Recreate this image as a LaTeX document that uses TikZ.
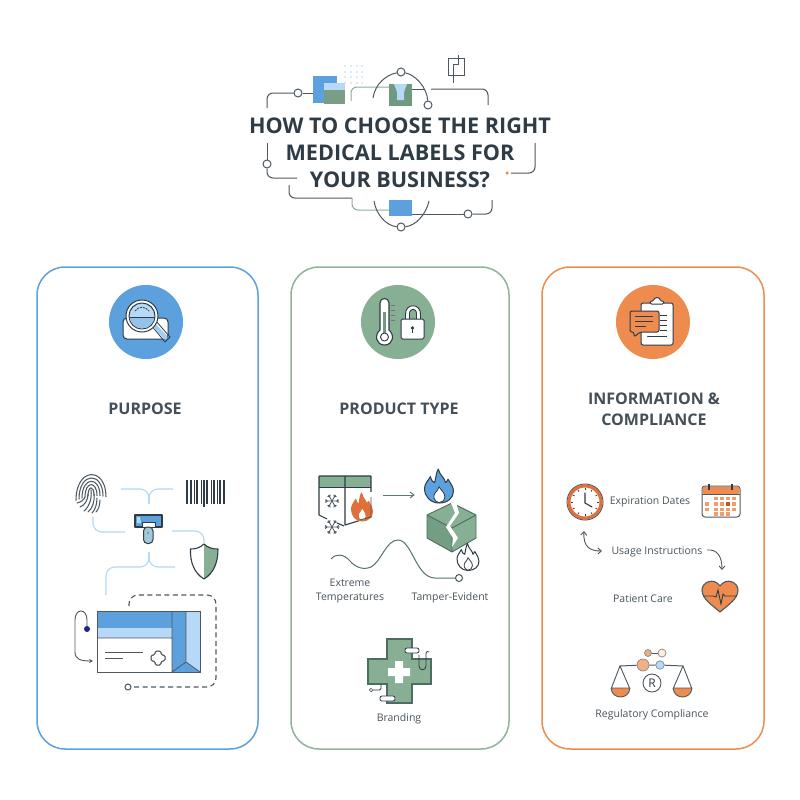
\documentclass[tikz,border=0pt]{standalone}
\usepackage{fontspec}
\setmainfont{Open Sans}
\usetikzlibrary{arrows.meta,calc}
\definecolor{ink}{HTML}{2F3B45}
\definecolor{txt}{HTML}{4A545C}
\definecolor{cblue}{HTML}{5DA0DE}
\definecolor{lblue}{HTML}{B5D9F7}
\definecolor{wire}{HTML}{B0D8F8}
\definecolor{cgreen}{HTML}{86AF93}
\definecolor{dgreen}{HTML}{6F9A80}
\definecolor{corange}{HTML}{EE8C50}
\definecolor{dorange}{HTML}{E0703A}
\definecolor{cardg}{HTML}{8FB39B}
\tikzset{
 card/.style={draw,line width=1.5pt,rounded corners=28pt,fill=white,inner sep=0pt},
 badge/.style={circle,minimum size=74pt,inner sep=0pt},
 head/.style={font=\fontsize{16}{21}\selectfont\bfseries,text=ink!90,anchor=base,inner sep=0pt},
 lab/.style={font=\fontsize{10.5}{13}\selectfont,text=txt,align=center,inner sep=0pt},
 ttl/.style={font=\fontsize{21.6}{27}\selectfont\bfseries,text=ink,anchor=base,inner sep=0pt},
 line/.style={draw=ink!85,line width=1pt},
 gline/.style={draw=dgreen!80,line width=1pt},
 bwire/.style={draw=wire,line width=1.1pt,rounded corners=9pt},
 ring/.style={circle,draw=ink!85,line width=1pt,fill=white,minimum size=8pt,inner sep=0pt},
 icon/.style={draw=ink,line width=1pt,line join=round},
}
\newcommand{\myflame}[6]{% x y sx sy fill stroke
 \begin{scope}[shift={(#1,#2)},xscale=#3,yscale=#4]
 \path[fill=#5,draw=#6,line width=1pt,line join=round]
  (0,1) .. controls (-0.6,1) and (-1,0.6) .. (-1,0.15)
  .. controls (-1,-0.15) and (-0.75,-0.3) .. (-0.6,-0.55)
  .. controls (-0.5,-0.3) and (-0.4,-0.2) .. (-0.3,-0.2)
  .. controls (-0.2,-0.5) and (-0.2,-0.8) .. (-0.05,-1)
  .. controls (0.05,-0.6) and (0.4,-0.5) .. (0.45,-0.2)
  .. controls (0.55,-0.25) and (0.6,-0.35) .. (0.62,-0.4)
  .. controls (0.85,-0.1) and (1,0.1) .. (1,0.3)
  .. controls (1,0.7) and (0.6,1) .. (0,1) -- cycle;
 \path[fill=white,draw=#6,line width=.8pt]
  (0,0.98) .. controls (-0.38,0.9) and (-0.42,0.6) .. (-0.28,0.42)
  .. controls (-0.15,0.3) and (-0.05,0.2) .. (0,0.05)
  .. controls (0.15,0.25) and (0.42,0.42) .. (0.4,0.65)
  .. controls (0.38,0.85) and (0.2,0.98) .. (0,0.98) -- cycle;
 \end{scope}}
\newcommand{\mysnow}[3]{% x y r
 \foreach \a in {0,60,...,300}{
  \draw[ink!85,line width=.8pt] (#1,#2) -- ++(\a:#3)
   ($(#1,#2)+(\a:0.65*#3)$) -- ++(\a+40:0.35*#3)
   ($(#1,#2)+(\a:0.65*#3)$) -- ++(\a-40:0.35*#3);}}
\begin{document}
\begin{tikzpicture}[x=1pt,y=-1pt]
\useasboundingbox (0,0) rectangle (800,800);
\fill[white] (0,0) rectangle (800,800);

% ---------- header circuit
\fill[cblue] (313,76) rectangle (337,103);
\fill[cgreen!90!black] (324,83) rectangle (345,104);
\fill[lblue] (324,83) rectangle (345,90);
\foreach \x in {345,351,357,362} \foreach \y in {66,72,77,83}
  \fill[lblue] (\x,\y) circle (.8);
\fill[dgreen] (389,84) rectangle (412,106);
\fill[lblue] (394,84) -- (407,84) -- (404,92) -- (404,100) -- (397,100) -- (397,92) -- cycle;
\fill[cblue] (389,200) rectangle (412,216);

\coordinate (a1) at (267,108); \coordinate (a2) at (313,93);
\node[ring] (r1) at (298,93) {};
\draw[line,rounded corners=6pt] (a1) -- (267,93) -- (r1);
\draw[line] (r1) -- (a2);
\coordinate (g1) at (351,101); \coordinate (g2) at (389,87);
\draw[gline,rounded corners=6pt] (g1) -- (351,87) -- (g2);
\node[ring] (r2) at (401,72) {};
\node[ring] (r3) at (428,105) {};
\coordinate (arcL) at (373,98);
\draw[line] (arcL) .. controls (375,84) and (386,75) .. (r2);
\draw[line] (r2) .. controls (416,75) and (427,88) .. (r3);
\coordinate (f1) at (412,89); \coordinate (f2) at (425,89);
\draw[line] (f1) -- (f2);
\coordinate (b1) at (431,89); \coordinate (b2) at (488,105);
\draw[line,rounded corners=6pt] (b1) -- (488,89) -- (b2);
% small icon
\draw[line] (448,59) rectangle (464,75);
\coordinate (s1) at (458,55); \coordinate (s2) at (453,83);
\draw[line] (s1) -- (458,65) -- (453,65) -- (s2);
% left lower
\node[ring] (r4) at (267,164) {};
\coordinate (c1) at (267,143); \coordinate (c2) at (297,178);
\draw[line] (c1) -- (r4);
\draw[line,rounded corners=6pt] (r4) -- (267,178) -- (c2);
\coordinate (d1) at (289,185); \coordinate (d2) at (352,198); \coordinate (d3) at (389,210);
\draw[line,rounded corners=6pt] (d1) -- (289,198) -- (d2);
\draw[gline,rounded corners=6pt] (d2) -- (352,210) -- (d3);
\node[ring] (r5) at (401,227) {};
\coordinate (e1) at (374,201); \coordinate (e2) at (429,201);
\draw[line] (e1) .. controls (376,215) and (387,226) .. (r5);
\draw[line] (r5) .. controls (415,226) and (426,215) .. (e2);
\node[ring] (r6) at (468,214) {};
\coordinate (h1) at (412,214); \coordinate (h2) at (492,200);
\draw[line] (h1) -- (r6);
\draw[line,rounded corners=6pt] (r6) -- (492,214) -- (h2);
\coordinate (k1) at (535,143); \coordinate (k2) at (511,173);
\node[circle,fill=corange,minimum size=3.5pt,inner sep=0pt] (k3) at (507,173) {};
\draw[line,rounded corners=6pt] (k1) -- (535,173) -- (k2);

\node[ttl] (t1) at (400,133.5) {HOW TO CHOOSE THE RIGHT};
\node[ttl] (t2) at (400,160.5) {MEDICAL LABELS FOR};
\node[ttl] (t3) at (400,187.5) {YOUR BUSINESS?};

% ---------- cards
\node[card,draw=cblue,minimum width=221pt,minimum height=482pt] (cardA) at (147.5,508) {};
\node[card,draw=cardg,minimum width=218pt,minimum height=482pt] (cardB) at (400,508) {};
\node[card,draw=corange,minimum width=222pt,minimum height=482pt] (cardC) at (653,508) {};
\node[badge,fill=cblue] (bA) at (146,322) {};
\node[badge,fill=cgreen] (bB) at (398,322) {};
\node[badge,fill=corange] (bC) at (653,322) {};
\node[head] (hA) at (145,414) {PURPOSE};
\node[head] (hB) at (399,414) {PRODUCT TYPE};
\node[head] (hC) at (654,404) {INFORMATION \&};
\node[head] (hD) at (654,425.5) {COMPLIANCE};

% --- badge A: magnifier
\draw[icon,fill=white,rounded corners=4pt] (123,318) rectangle (168,339);
\draw[ink,line width=.8pt] (151,325) -- (156,321) -- (170,337) -- (165,342) -- cycle;
\fill[lblue!80!cblue,rounded corners=1pt] (153,327) -- (156,324) -- (168,337) -- (165,340) -- cycle;
\draw[icon,fill=white] (142,316) circle (16);
\draw[icon,fill=lblue] (142,316) circle (13);
\begin{scope}\clip (142,316) circle (12.5);
\fill[cblue!65!white] (128,317) rectangle (156,330);
\draw[ink,line width=.6pt] (128,317) -- (156,317);
\end{scope}
\draw[ink,line width=.8pt,dash pattern=on 2pt off 1pt] (135,311) .. controls (139,306) and (145,306) .. (149,311);

% --- badge B: thermometer + lock
\draw[icon,fill=white,line width=1.1pt] (380,330) -- (380,303) .. controls (380,297) and (389,297) .. (389,303) -- (389,330)
  .. controls (395,335) and (393,345) .. (384.5,345) .. controls (376,345) and (374,335) .. (380,330) -- cycle;
\fill[dgreen] (383,312) rectangle (386,333);
\draw[ink,line width=.9pt] (384.5,337) circle (4);
\foreach \y in {305,310,315,320} \draw[ink!70,line width=.8pt] (391,\y) -- (395,\y);
\draw[white,line width=3.4pt] (407.5,320) -- (407.5,314) .. controls (407.5,305) and (418.5,305) .. (418.5,314) -- (418.5,320);
\draw[ink,line width=.9pt] (405.5,320) -- (405.5,314) .. controls (405.5,303) and (420.5,303) .. (420.5,314) -- (420.5,320);
\draw[ink,line width=.9pt] (409.5,320) -- (409.5,314) .. controls (409.5,307.5) and (416.5,307.5) .. (416.5,314) -- (416.5,320);
\draw[icon,fill=white,rounded corners=1.5pt] (401,319) rectangle (424,339);
\fill[ink] (412.5,328) circle (1.8);
\draw[ink,line width=1pt] (412.5,328) -- (412.5,333);

% --- badge C: clipboard + bubble
\draw[icon,fill=white,rounded corners=2pt] (641,303) rectangle (673,345);
\draw[icon,fill=white,rounded corners=1.5pt] (650,304) -- (650,301) -- (654,301) .. controls (654,297) and (660,297) .. (660,301) -- (664,301) -- (664,304) -- cycle;
\foreach \y in {315,320,325,330} \draw[ink,line width=.9pt] (660,\y) -- (667,\y);
\draw[ink,line width=.9pt] (648,336.5) -- (667,336.5);
\fill[ink] (648,336.5) circle (.9);
\draw[icon,fill=corange,rounded corners=2pt] (630,311) -- (659,311) -- (659,332) -- (640,332) -- (634,337) -- (634,332) -- (630,332) -- cycle;
\draw[ink,line width=.9pt] (635,316) -- (653,316) (635,321) -- (653,321) (635,326) -- (646,326);

% ---------- panel A
\begin{scope}[ink!85,line width=1.05pt,line cap=round]
\foreach \r in {3,6,9,12,15}
  \draw ({91-\r},{495+\r*.35}) .. controls ({91-\r},{490-1.55*\r}) and ({91+\r},{490-1.55*\r}) .. ({91+\r},{495+\r*.1});
\draw (91,490) .. controls (92,498) and (90,506) .. (84,511);
\draw (94,494) .. controls (95,502) and (92,509) .. (88,512);
\draw (97,498) .. controls (97,505) and (95,510) .. (92,513);
\draw (100,500) .. controls (100,506) and (98,510) .. (96,512);
\draw (88,494) .. controls (88,500) and (85,505) .. (80,507);
\draw (85,497) .. controls (84,500) and (81,502) .. (77,503);
\end{scope}
\foreach \x/\w in {187/2.4,191/1.2,194/1,197/2.4,201/1,204/1.4,207/2.4,211/1,214/2,217/1,220/1.4,224/2.4}
  \draw[ink,line width=\w pt] (\x,480) -- (\x,504);
\draw[ink,line width=2pt] (204,480) -- (204,507);

\coordinate (w1) at (121,489); \coordinate (w2) at (173,489); \coordinate (w3) at (149,504);
\draw[bwire] (w1) -- (149,489) -- (w3);
\draw[bwire] (w2) -- (149,489) -- (w3);
\coordinate (w4) at (93,517); \coordinate (w5) at (125,532);
\draw[bwire] (w4) -- (93,532) -- (w5);
\coordinate (w6) at (172,531); \coordinate (w7) at (204,543);
\draw[bwire] (w6) -- (204,531) -- (w7);
\coordinate (w8) at (149,552); \coordinate (w9) at (106,595); \coordinate (w10) at (175,567);
\draw[bwire] (w8) -- (149,567) -- (106,567) -- (w9);
\draw[bwire] (w8) -- (149,567) -- (w10);

% scanner
\fill[cblue] (135,515) rectangle (162,527);
\draw[icon,line width=1.1pt] (135,527) -- (135,515) -- (162,515) -- (162,527) -- cycle;
\fill[lblue] (137,517) -- (140,517) -- (141,523) -- (137,523) -- cycle;
\fill[white,draw=ink,line width=.7pt] (142.5,522) rectangle (155,527);
\draw[icon,fill=dgreen!25!lblue,rounded corners=4pt] (143.5,527) -- (153,527) -- (153,543.5) -- (143.5,543.5) -- cycle;
\fill[dgreen] (148,533) circle (1.1);
% shield
\fill[white] (204,544) .. controls (200,548) and (195,549) .. (190.5,549) .. controls (190,562) and (194,573) .. (204,579) -- cycle;
\fill[cgreen] (204,544) .. controls (208,548) and (213,549) .. (218,549) .. controls (218,562) and (214,573) .. (204,579) -- cycle;
\draw[icon,line width=1.1pt] (204,544) .. controls (200,548) and (195,549) .. (190.5,549) .. controls (190,562) and (194,573) .. (204,579)
  .. controls (214,573) and (218,562) .. (218,549) .. controls (213,549) and (208,548) .. (204,544) -- cycle;
% label
\fill[white] (97,611) rectangle (200,672);
\fill[cblue] (97,611) rectangle (172,628);
\fill[lblue] (97,628) rectangle (172,638);
\fill[cblue] (172,611) rectangle (186,672);
\fill[lblue] (186,611) rectangle (200,672);
\fill[cblue] (172,672) -- (186,662) -- (200,672) -- cycle;
\draw[ink!85,line width=.8pt] (97,638) -- (172,638) (172,611) -- (172,672) (186,611) -- (186,662) (172,672) -- (186,662) -- (200,672);
\draw[ink!85,line width=.95pt] (97,611) rectangle (200,672);
\draw[ink!85,line width=.9pt] (105,652) -- (143,652) (105,658) -- (123,658);
\draw[ink,line width=1pt,fill=white,rounded corners=1.5pt] (155,651) -- (161,651) -- (161,655) -- (165,655) -- (165,661) -- (161,661) -- (161,665) -- (155,665) -- (155,661) -- (151,661) -- (151,655) -- (155,655) -- cycle;
% loop
\node[circle,fill=blue!40!ink,minimum size=6pt,inner sep=0pt] (dotL) at (87,629) {};
\coordinate (loopEnd) at (93,661);
\draw[ink!85,line width=.9pt,-{Stealth[length=4pt,width=4pt]}] (dotL) -- (87,620) .. controls (87,608) and (75,608) .. (75,620) -- (75,652) .. controls (75,659) and (80,661) .. (loopEnd);
% dashed
\node[ring,minimum size=6pt] (rd) at (128,687) {};
\coordinate (ds) at (129,606);
\draw[ink!85,line width=1.1pt,dash pattern=on 5pt off 3.5pt,rounded corners=9pt] (ds) -- (129,595) -- (216,595) -- (216,687) -- (rd);

% ---------- panel B
\fill[cgreen] (319,476) rectangle (371,487);
\draw[icon,line width=1.1pt] (319,476) -- (371,476) (371,476) -- (371,517) -- (345,525) -- (345,476);
\draw[icon,line width=1.1pt] (319,476) -- (319,515) -- (327,519);
\draw[icon,line width=1.1pt] (337,523) -- (344,526);
\draw[ink,line width=.8pt] (319,487) -- (371,487);
\mysnow{332}{501}{7}
\mysnow{332}{527}{7.5}
\fill[white] (351,492) rectangle (373,516);
\myflame{362}{507}{10.5}{14}{dorange}{dorange}
\draw[ink!85,line width=.9pt] (371,497) -- (371,517) -- (360,520);
\node[inner sep=0pt,minimum size=0pt] (arrA) at (383,495) {};
\node[inner sep=0pt,minimum size=0pt] (arrB) at (415,495) {};
\draw[dgreen!70!ink,line width=1pt,-{Straight Barb[length=4pt,width=6pt]}] (arrA) -- (arrB);
% box
\fill[cgreen] (427,515) -- (452,503) -- (476,515) -- (476,538) -- (452,552) -- (427,538) -- cycle;
\fill[dgreen!80!cgreen] (427,515) -- (452,528) -- (452,552) -- (427,538) -- cycle;
\draw[icon,line width=.9pt,draw=dgreen!50!ink] (427,515) -- (452,503) -- (476,515) -- (476,538) -- (452,552) -- (427,538) -- cycle (427,515) -- (452,528) -- (476,515) (452,528) -- (452,552);
\myflame{439}{486}{14.5}{17}{cblue}{ink}
\fill[white] (451,503) -- (456,502) -- (459,513) -- (450,526) -- (458,538) -- (452,547) -- (453,538) -- (446,527) -- (455,513) -- cycle;
\myflame{468}{557}{11}{13.5}{white}{ink}
% wave
\node[ring,minimum size=7pt] (rw) at (459,578) {};
\coordinate (wv) at (331,559);
\draw[dgreen!60!ink,line width=1pt] (wv) .. controls (336,553) and (344,554) .. (350,561) .. controls (356,568) and (364,570) .. (371,567)
  .. controls (381,562) and (386,540) .. (398,540) .. controls (412,540) and (416,578) .. (435,578) -- (rw);
\node[lab] (lx1) at (350,583) {Extreme};
\node[lab] (lx2) at (350,598) {Temperatures};
\node[lab] (lx3) at (450,598) {Tamper-Evident};
\node[lab] (lx4) at (399,719) {Branding};
% cross
\draw[fill=cgreen,draw=dgreen!50!ink,line width=1.1pt] (387,639) -- (412,639) -- (412,659) -- (431,659) -- (431,684) -- (412,684) -- (412,703) -- (387,703) -- (387,684) -- (368,684) -- (368,659) -- (387,659) -- cycle;
\fill[white] (395,661) rectangle (403,683) (388,668) rectangle (410,676);
\draw[ink,line width=.8pt,fill=white,rounded corners=2pt] (405,648) rectangle (419,653);
\draw[ink,line width=.8pt,fill=white,rounded corners=2pt] (380,696) rectangle (395,701);
\draw[ink,line width=.8pt] (419,655) -- (419,666) .. controls (419,671) and (426,671) .. (426,666) -- (426,654) .. controls (426,651) and (428,651) .. (429,652);
\node[ring,minimum size=3.5pt,line width=.7pt] (rc) at (371,690) {};
\coordinate (rc2) at (381,684);
\draw[ink,line width=.8pt,rounded corners=1.5pt] (rc) -- (381,690) -- (rc2);

% ---------- panel C
\draw[ink!85,line width=1pt,fill=white] (585,502) circle (18);
\draw[dorange,line width=3pt] (585,502) circle (16);
\foreach \a in {0,30,...,330} \draw[ink,line width=.7pt] ($(585,502)+(\a:14)$) -- ($(585,502)+(\a:12)$);
\draw[ink,line width=1.1pt,line cap=round] (585,493) -- (585,503) -- (592,507);
\node[lab] (tE) at (650,501.5) {Expiration Dates};
% calendar
\draw[icon,fill=white,rounded corners=3pt,draw=ink!85] (702,486) rectangle (740,517);
\fill[corange,rounded corners=2pt] (702.5,486.5) rectangle (739.5,494);
\draw[ink!85,line width=.8pt] (702,494) -- (740,494);
\draw[ink,line width=1.1pt] (709,483.5) -- (709,490) (732,483.5) -- (732,490);
\foreach \x/\y in {714/496.5,720/496.5,726/496.5,732/496.5,
  705/502,714/502,720/502,726/502,732/502,
  705/507.5,714/507.5,720/507.5,726/507.5,732/507.5,
  714/512,720/512,726/512}
  \fill[corange!85!white] (\x,\y) rectangle +(4.2,3.8);
\fill[dorange!80!black] (726,502) rectangle +(4.2,3.8);
\node[lab] (tU) at (657,552) {Usage Instructions};
\coordinate (ca) at (584,531); \coordinate (cb) at (602,551);
\draw[ink!85,line width=.9pt,{Straight Barb[length=3.5pt,width=6pt]}-{Straight Barb[length=3.5pt,width=6pt]}] (ca) .. controls (583,547) and (590,551) .. (cb);
\coordinate (cc) at (707,550); \coordinate (cd) at (722,570);
\draw[ink!85,line width=.9pt,-{Straight Barb[length=3.5pt,width=6pt]}] (cc) .. controls (717,549) and (722,556) .. (cd);
\node[lab] (tP) at (643,598.5) {Patient Care};
% heart
\draw[icon,fill=corange,line width=1.1pt,draw=ink!85] (720,612) .. controls (712,605) and (702,599) .. (702,590) .. controls (702,582) and (714,577) .. (720,586)
  .. controls (726,577) and (738,582) .. (738,590) .. controls (738,599) and (728,605) .. (720,612) -- cycle;
\draw[ink,line width=.9pt] (703,596) -- (713,596) -- (716,597) -- (718,590) -- (721,604) -- (723,594) -- (725,596) -- (737,596);
% scales
\node[circle,draw=ink!60,fill=corange!75!white,minimum size=7pt,inner sep=0pt,line width=.7pt] (s3) at (648,653) {};
\node[circle,draw=ink!60,fill=orange!15!white,minimum size=8pt,inner sep=0pt,line width=.7pt] (s4) at (662,653) {};
\draw[ink!85,line width=.9pt] (s3) -- (s4);
\coordinate (bl) at (620,666); \coordinate (br) at (683,666);
\node[circle,draw=ink!60,fill=corange!70!white,minimum size=12pt,inner sep=0pt,line width=.7pt] (s1) at (643,665) {};
\node[circle,draw=ink!60,fill=lblue,minimum size=8.5pt,inner sep=0pt,line width=.7pt] (s2) at (660,665) {};
\draw[ink!85,line width=1pt] (bl) -- (s1) (s1) -- (s2) (s2) -- (br);
\fill[corange] (611,688) .. controls (612,700) and (629,700) .. (630,688) -- cycle;
\fill[corange] (673,688) .. controls (674,700) and (691,700) .. (692,688) -- cycle;
\draw[ink!85,line width=.9pt] (611,689) -- (620,666) -- (630,689) (611,688) -- (630,688) (611,688) .. controls (612,700) and (629,700) .. (630,688);
\draw[ink!85,line width=.9pt] (673,689) -- (683,666) -- (692,689) (673,688) -- (692,688) (673,688) .. controls (674,700) and (691,700) .. (692,688);
\node[circle,draw=ink!85,line width=.9pt,minimum size=18pt,inner sep=0pt,font=\fontsize{12}{12}\selectfont,text=ink] (rr) at (652,683) {R};
\node[lab] (tR) at (652,714.5) {Regulatory Compliance};
\end{tikzpicture}
\end{document}
